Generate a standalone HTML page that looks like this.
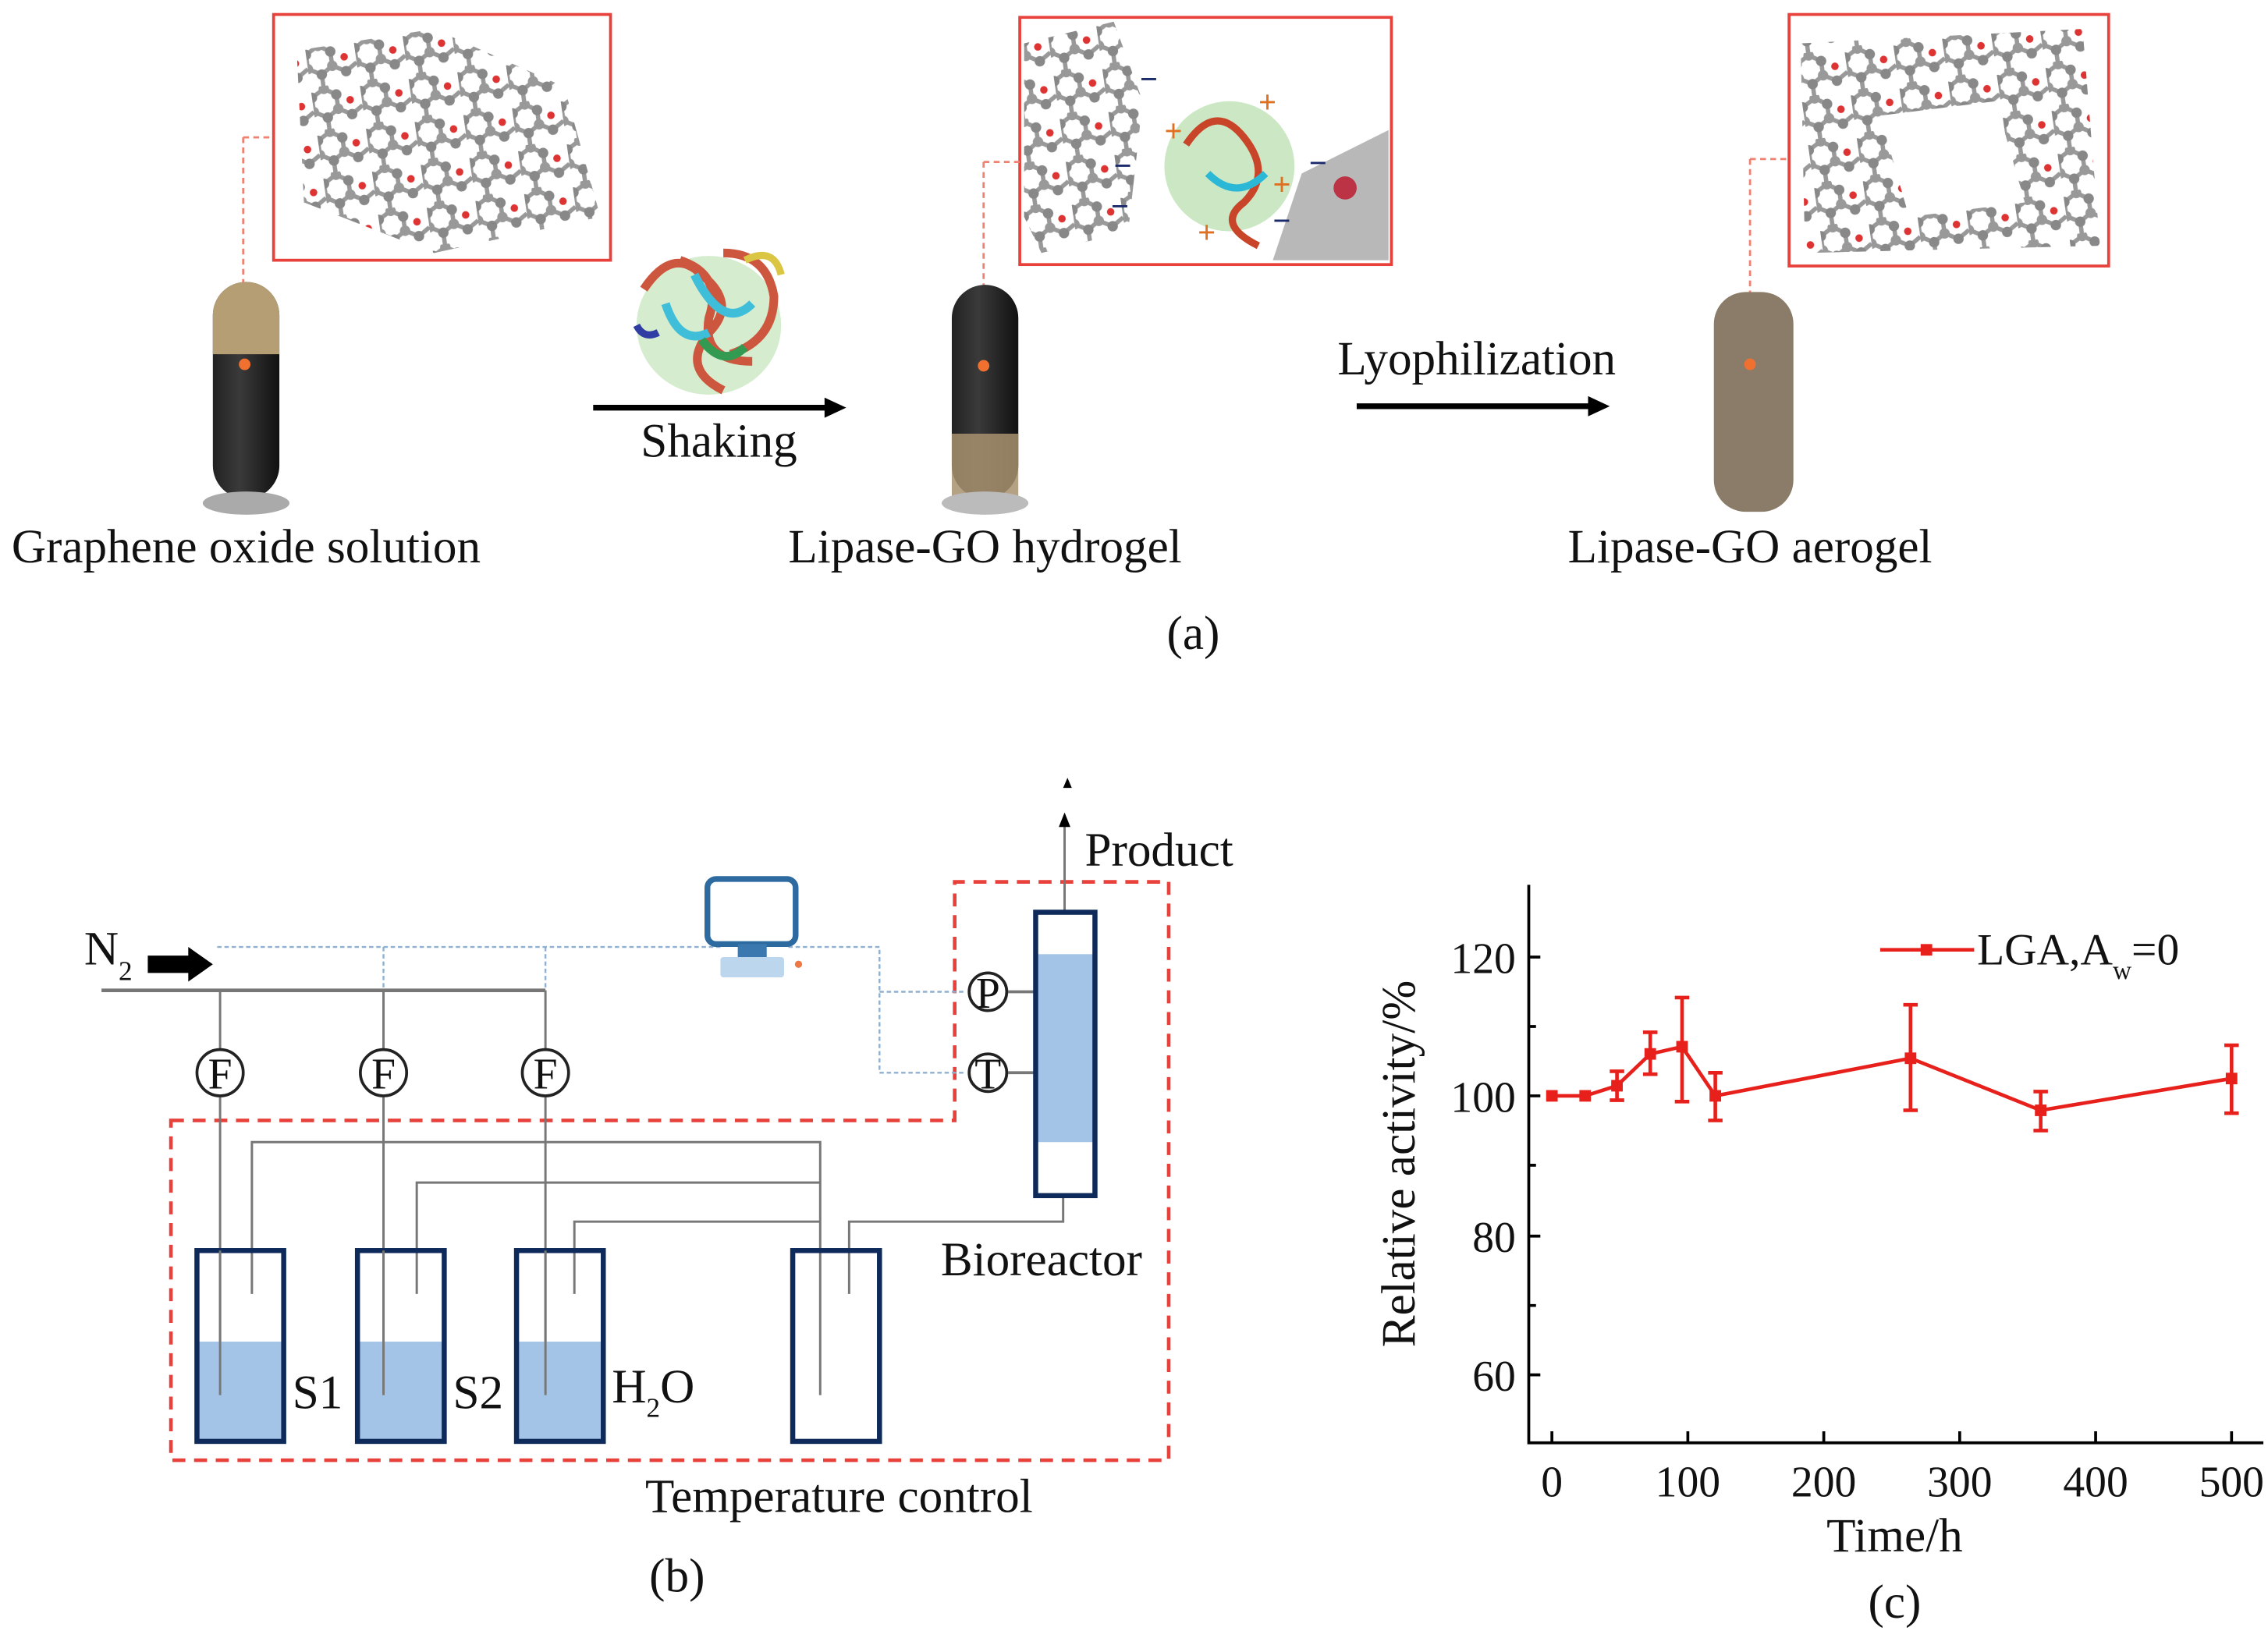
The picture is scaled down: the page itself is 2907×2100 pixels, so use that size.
<!DOCTYPE html>
<html><head><meta charset="utf-8"><style>
html,body{margin:0;padding:0;background:#fff;}
svg{display:block;}
text{font-family:"Liberation Serif",serif;fill:#111;}
</style></head><body>
<svg width="2907" height="2100" viewBox="0 0 1568 1133" xmlns="http://www.w3.org/2000/svg">
<defs>
<pattern id="mol" width="34" height="30" patternUnits="userSpaceOnUse" patternTransform="rotate(-8)">
<path d="M0 7 L9 2 L17 7 L17 17 L9 22 L0 17 Z M17 17 L26 22 L34 17 M9 22 L9 30" fill="none" stroke="#999" stroke-width="3"/>
<circle cx="0" cy="7" r="3.6" fill="#888"/><circle cx="9" cy="2" r="3.6" fill="#999"/><circle cx="17" cy="7" r="3.6" fill="#888"/>
<circle cx="17" cy="17" r="3.6" fill="#999"/><circle cx="9" cy="22" r="3.6" fill="#888"/><circle cx="0" cy="17" r="3.6" fill="#999"/>
<circle cx="26" cy="22" r="3.6" fill="#888"/><circle cx="26" cy="12" r="2.6" fill="#d33"/>
</pattern>
<linearGradient id="tb" x1="0" x2="1"><stop offset="0" stop-color="#222"/><stop offset=".4" stop-color="#3a3a3a"/><stop offset="1" stop-color="#111"/></linearGradient>
</defs>

<!-- (a) -->
<rect x="189" y="10" width="233" height="170" fill="#fff" stroke="#e8403a" stroke-width="2"/>
<path d="M205 35 L300 20 L390 60 L415 150 L300 175 L210 140 Z" fill="url(#mol)"/>
<path d="M168 95 H189 M168 95 V250" stroke="#f08070" stroke-width="1.5" stroke-dasharray="4,3" fill="none"/>
<rect x="147" y="195" width="46" height="150" rx="23" fill="url(#tb)"/>
<path d="M147 218 a23 23 0 0 1 46 0 V245 H147 Z" fill="#b59e74"/>
<ellipse cx="170" cy="348" rx="30" ry="8" fill="#aaa"/>
<circle cx="169" cy="252" r="4" fill="#f07030"/>

<g opacity=".9">
<ellipse cx="490" cy="225" rx="50" ry="48" fill="#9ad08a" opacity=".45"/>
<path d="M445 200 q20 -30 40 -10 q25 20 5 40 q-20 25 10 40 M470 180 q30 10 20 40 q-5 30 30 30 M500 175 q30 0 35 30 q0 30 -30 40" stroke="#c8452a" stroke-width="6" fill="none"/>
<path d="M460 210 q10 30 30 20 M480 190 q20 40 40 20" stroke="#2bb8d6" stroke-width="6" fill="none"/>
<path d="M515 180 q20 -10 25 10" stroke="#d8c030" stroke-width="5" fill="none"/>
<path d="M440 225 q5 10 15 5" stroke="#1a2a9a" stroke-width="5" fill="none"/>
<path d="M485 235 q15 20 30 5" stroke="#1e9040" stroke-width="6" fill="none"/>
</g>
<line x1="410" y1="282" x2="572" y2="282" stroke="#000" stroke-width="4"/>
<polygon points="570,275 585,282 570,289" fill="#000"/>
<text x="497" y="316" font-size="33" text-anchor="middle">Shaking</text>

<rect x="705" y="12" width="257" height="171" fill="#fff" stroke="#e8403a" stroke-width="2"/>
<path d="M708 30 L770 15 L790 70 L780 160 L720 175 L708 150 Z" fill="url(#mol)"/>
<path d="M900 120 L960 90 L960 180 L880 180 Z" fill="#888" opacity=".6"/>
<circle cx="930" cy="130" r="8" fill="#b34"/>
<ellipse cx="850" cy="115" rx="45" ry="45" fill="#9ad08a" opacity=".5"/>
<path d="M820 100 q20 -30 40 -5 q20 25 0 45 q-20 15 10 30" stroke="#c8452a" stroke-width="5" fill="none"/>
<path d="M835 120 q20 20 40 0" stroke="#2bb8d6" stroke-width="5" fill="none"/>
<g font-size="22" font-weight="bold" font-family="Liberation Sans,sans-serif">
<text x="788" y="62" style="fill:#1a2a6a">−</text><text x="805" y="98" style="fill:#e07020">+</text>
<text x="770" y="122" style="fill:#1a2a6a">−</text><text x="768" y="150" style="fill:#1a2a6a">−</text>
<text x="870" y="78" style="fill:#e07020">+</text><text x="880" y="135" style="fill:#e07020">+</text>
<text x="905" y="120" style="fill:#1a2a6a">−</text><text x="828" y="168" style="fill:#e07020">+</text>
<text x="880" y="160" style="fill:#1a2a6a">−</text>
</g>
<path d="M680 112 H705 M680 112 V250" stroke="#f08070" stroke-width="1.5" stroke-dasharray="4,3" fill="none"/>
<rect x="658" y="197" width="46" height="148" rx="23" fill="url(#tb)"/>
<path d="M658 300 H704 V345 H658 Z" fill="#a89270" opacity=".85"/>
<ellipse cx="681" cy="348" rx="30" ry="8" fill="#bbb"/>
<circle cx="680" cy="253" r="4" fill="#f07030"/>
<text x="681" y="389" font-size="33" text-anchor="middle">Lipase-GO hydrogel</text>

<line x1="938" y1="281" x2="1100" y2="281" stroke="#000" stroke-width="4"/>
<polygon points="1098,274 1113,281 1098,288" fill="#000"/>
<text x="1021" y="259" font-size="33" text-anchor="middle">Lyophilization</text>

<rect x="1237" y="10" width="221" height="174" fill="#fff" stroke="#e8403a" stroke-width="2"/>
<path d="M1245 30 L1440 20 L1452 170 L1248 175 Z M1300 80 L1380 70 L1400 140 L1320 150 Z" fill="url(#mol)" fill-rule="evenodd"/>
<path d="M1210 110 H1237 M1210 110 V250" stroke="#f08070" stroke-width="1.5" stroke-dasharray="4,3" fill="none"/>
<rect x="1185" y="202" width="55" height="152" rx="22" fill="#8a7c68"/>
<circle cx="1210" cy="252" r="4" fill="#f07030"/>

<text x="170" y="389" font-size="33" text-anchor="middle">Graphene oxide solution</text>
<text x="1210" y="389" font-size="33" text-anchor="middle">Lipase-GO aerogel</text>
<text x="825" y="449" font-size="33" text-anchor="middle">(a)</text>

<!-- (b) -->
<path d="M118 775 H660 V610 H808 V1010 H118 Z" fill="none" stroke="#e8403a" stroke-width="2.5" stroke-dasharray="9,6"/>
<g stroke="#8fb0d0" stroke-width="1.3" stroke-dasharray="3,2" fill="none">
<path d="M150 655 H500 M545 655 H608 V742 H668 M608 686 H668 M265 655 V685 M377 655 V685"/>
</g>
<rect x="489" y="608" width="61" height="45" rx="6" fill="#fff" stroke="#2c6aa0" stroke-width="4"/>
<rect x="510" y="653" width="20" height="10" fill="#3b78b0"/>
<rect x="498" y="662" width="44" height="14" rx="2" fill="#bcd6ee"/>
<circle cx="552" cy="667" r="2.5" fill="#e74"/>
<text x="58" y="667" font-size="33">N<tspan font-size="19" dy="11">2</tspan></text>
<polygon points="102,661 130,661 130,655 147,667 130,679 130,673 102,673" fill="#000"/>
<g stroke="#777" stroke-width="1.6" fill="none">
<line x1="70" y1="685" x2="377" y2="685" stroke-width="2.5"/>
<line x1="152" y1="685" x2="152" y2="965"/>
<line x1="265" y1="685" x2="265" y2="965"/>
<line x1="377" y1="685" x2="377" y2="965"/>
<path d="M174 895 V790 H567 V965"/>
<path d="M288 895 V818 H567"/>
<path d="M397 895 V845 H567"/>
<path d="M587 895 V845 H735 V828"/>
<path d="M736 630 V568"/>
<line x1="697" y1="686" x2="733" y2="686" stroke-width="2"/>
<line x1="697" y1="742" x2="733" y2="742" stroke-width="2"/>
</g>
<polygon points="732,572 736,562 740,572" fill="#000"/>
<polygon points="735,545 738,538 741,545" fill="#000"/>
<g fill="#fff" stroke="#222" stroke-width="2">
<circle cx="152" cy="742" r="16"/><circle cx="265" cy="742" r="16"/><circle cx="377" cy="742" r="16"/>
<circle cx="683" cy="686" r="13"/><circle cx="683" cy="742" r="13"/>
</g>
<g font-size="30" text-anchor="middle">
<text x="152" y="753">F</text><text x="265" y="753">F</text><text x="377" y="753">F</text>
<text x="683" y="697">P</text><text x="683" y="753">T</text>
</g>
<rect x="717" y="660" width="39" height="130" fill="#a3c4e6"/>
<rect x="716" y="631" width="41" height="196" fill="none" stroke="#0d2a5a" stroke-width="3.5"/>
<rect x="137" y="928" width="58" height="68" fill="#a3c4e6"/>
<rect x="248" y="928" width="58" height="68" fill="#a3c4e6"/>
<rect x="358" y="928" width="58" height="68" fill="#a3c4e6"/>
<g fill="none" stroke="#0d2a5a" stroke-width="3.5">
<rect x="136" y="865" width="60" height="132"/><rect x="247" y="865" width="60" height="132"/>
<rect x="357" y="865" width="60" height="132"/><rect x="548" y="865" width="60" height="132"/>
</g>
<g stroke="#777" stroke-width="1.6"><line x1="152" y1="865" x2="152" y2="965"/><line x1="265" y1="865" x2="265" y2="965"/><line x1="377" y1="865" x2="377" y2="965"/></g>
<text x="202" y="974" font-size="33">S1</text>
<text x="313" y="974" font-size="33">S2</text>
<text x="423" y="970" font-size="33">H<tspan font-size="19" dy="10">2</tspan><tspan dy="-10">O</tspan></text>
<text x="750" y="599" font-size="33">Product</text>
<text x="720" y="882" font-size="33" text-anchor="middle">Bioreactor</text>
<text x="580" y="1046" font-size="33" text-anchor="middle">Temperature control</text>
<text x="468" y="1101" font-size="33" text-anchor="middle">(b)</text>

<!-- (c) -->
<g stroke="#000" stroke-width="2" fill="none">
<path d="M1057 612 V998 H1565"/>
<path d="M1057 662 H1065 M1057 758 H1065 M1057 855 H1065 M1057 951 H1065 M1057 710 H1062 M1057 806 H1062 M1057 903 H1062"/>
<path d="M1073 998 V990 M1167 998 V990 M1261 998 V990 M1355 998 V990 M1449 998 V990 M1543 998 V990"/>
</g>
<g font-size="30" text-anchor="end">
<text x="1048" y="673">120</text><text x="1048" y="769">100</text><text x="1048" y="866">80</text><text x="1048" y="962">60</text>
</g>
<g font-size="30" text-anchor="middle">
<text x="1073" y="1035">0</text><text x="1167" y="1035">100</text><text x="1261" y="1035">200</text>
<text x="1355" y="1035">300</text><text x="1449" y="1035">400</text><text x="1543" y="1035">500</text>
</g>
<text x="1310" y="1073" font-size="33" text-anchor="middle">Time/h</text>
<text x="1310" y="1119" font-size="33" text-anchor="middle">(c)</text>
<text transform="translate(978,805) rotate(-90)" font-size="33" text-anchor="middle">Relative activity/%</text>
<g stroke="#e8201c" stroke-width="2.5" fill="none">
<polyline points="1073,758 1096,758 1118,751 1141,729 1163,724 1186,758 1321,732 1411,768 1543,746"/>
<path d="M1118 741 V761 M1141 714 V743 M1163 690 V762 M1186 742 V775 M1321 695 V768 M1411 755 V782 M1543 723 V770"/>
<path d="M1113 741 H1123 M1113 761 H1123 M1136 714 H1146 M1136 743 H1146 M1158 690 H1168 M1158 762 H1168 M1181 742 H1191 M1181 775 H1191 M1316 695 H1326 M1316 768 H1326 M1406 755 H1416 M1406 782 H1416 M1538 723 H1548 M1538 770 H1548"/>
<line x1="1300" y1="657" x2="1365" y2="657"/>
</g>
<g fill="#e8201c">
<rect x="1069" y="754" width="8" height="8"/><rect x="1092" y="754" width="8" height="8"/><rect x="1114" y="747" width="8" height="8"/>
<rect x="1137" y="725" width="8" height="8"/><rect x="1159" y="720" width="8" height="8"/><rect x="1182" y="754" width="8" height="8"/>
<rect x="1317" y="728" width="8" height="8"/><rect x="1407" y="764" width="8" height="8"/><rect x="1539" y="742" width="8" height="8"/>
<rect x="1328" y="653" width="8" height="8"/>
</g>
<text x="1367" y="667" font-size="31">LGA,A<tspan font-size="18" dy="10">w</tspan><tspan dy="-10">=0</tspan></text>
</svg>
</body></html>
